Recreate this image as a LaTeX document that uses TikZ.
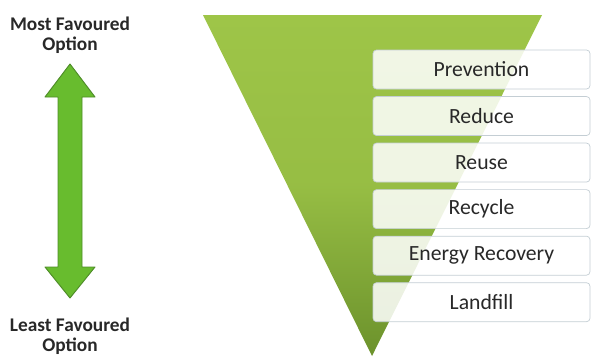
\documentclass[tikz,border=0pt]{standalone}
\usepackage{fontspec}
\setmainfont{Carlito}
\usepackage{tikz}
\usetikzlibrary{positioning}

\definecolor{funneltop}{RGB}{158,197,72}
\definecolor{funnelbot}{RGB}{108,146,44}
\definecolor{arrowgreen}{RGB}{104,188,46}
\definecolor{arrowedge}{RGB}{78,140,40}
\definecolor{boxedge}{RGB}{196,206,212}
\definecolor{labeltext}{RGB}{40,40,40}

\begin{document}
\begin{tikzpicture}[
    x=0.03cm, y=-0.03cm,
    node distance=0.205cm,
    level/.style={rectangle, rounded corners=3pt, draw=boxedge, line width=0.6pt,
        fill=white, fill opacity=0.86, text opacity=1, text=labeltext,
        minimum width=6.51cm, minimum height=1.17cm, inner sep=0pt,
        font=\fontsize{18.5}{20}\selectfont},
    ends/.style={font=\fontsize{16.5}{17}\selectfont\bfseries, align=center, text=labeltext}
]
    \useasboundingbox (0,0) rectangle (591,358);

    % funnel
    \shade[top color=funneltop, bottom color=funnelbot, middle color=funneltop!85!funnelbot]
        (203,15) -- (542,15) -- (372,356) -- cycle;

    % hierarchy levels
    \node[level] (prevention) at (481.5,69.5) {Prevention};
    \node[level, below=of prevention] (reduce) {Reduce};
    \node[level, below=of reduce] (reuse) {Reuse};
    \node[level, below=of reuse] (recycle) {Recycle};
    \node[level, below=of recycle] (energy) {Energy Recovery};
    \node[level, below=of energy] (landfill) {Landfill};

    % end labels
    \node[ends] (most) at (70,35) {Most Favoured\\Option};
    \node[ends] (least) at (70,336) {Least Favoured\\Option};

    % double arrow between the labels
    \fill[arrowgreen, draw=arrowedge, line width=0.8pt, line join=round]
        (70,64) -- (95,97) -- (82,97) -- (82,267) -- (95,267) -- (70,298)
        -- (45,267) -- (58,267) -- (58,97) -- (45,97) -- cycle;

\end{tikzpicture}
\end{document}
